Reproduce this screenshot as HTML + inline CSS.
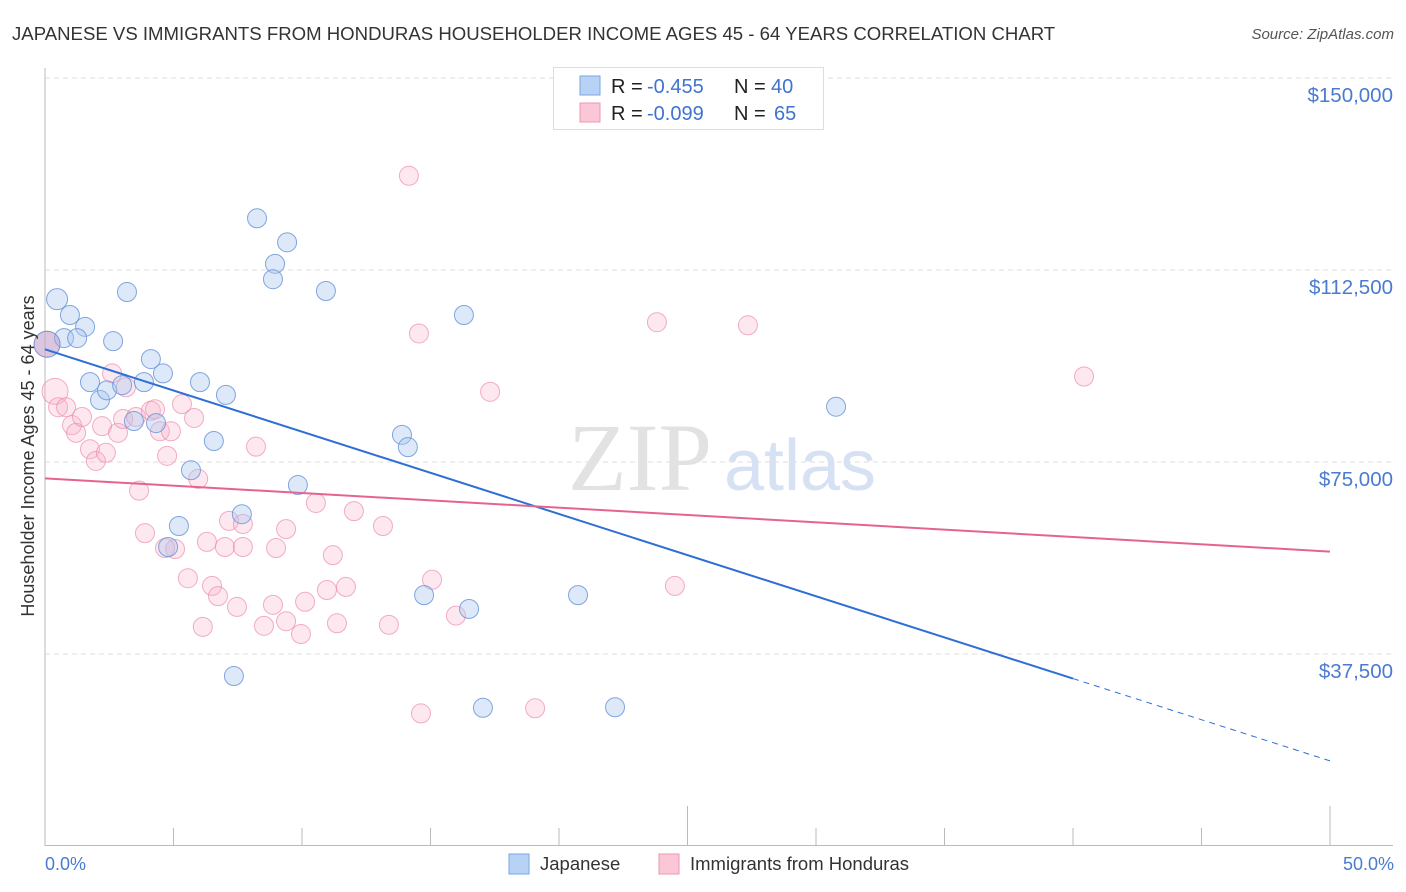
<!DOCTYPE html>
<html><head><meta charset="utf-8"><style>
body{margin:0;background:#fff;font-family:"Liberation Sans",sans-serif;}
svg{display:block}
</style></head><body>
<svg width="1406" height="892" xmlns="http://www.w3.org/2000/svg">
<text x="12" y="40" font-size="18.6" fill="#333">JAPANESE VS IMMIGRANTS FROM HONDURAS HOUSEHOLDER INCOME AGES 45 - 64 YEARS CORRELATION CHART</text>
<text x="1394" y="39" font-size="15" fill="#555" font-style="italic" text-anchor="end">Source: ZipAtlas.com</text>
<g id="grid"></g>
<text x="640" y="490" font-size="96" fill="#e2e2e2" font-family="Liberation Serif,serif" text-anchor="middle">ZIP</text>
<text x="800" y="490" font-size="72" fill="#d6e2f3" text-anchor="middle">atlas</text>
<line x1="45" y1="68" x2="45" y2="846" stroke="#bbb"/>
<line x1="45" y1="845.5" x2="1393" y2="845.5" stroke="#bbb"/>
<g id="ticks"></g>
<g id="pts"></g>
<g id="trend"></g>
<text transform="translate(34,456) rotate(-90)" font-size="18" fill="#333" text-anchor="middle">Householder Income Ages 45 - 64 years</text>
<text x="45" y="870" font-size="18" fill="#4a7bd0">0.0%</text>
<text x="1394" y="870" font-size="18" fill="#4a7bd0" text-anchor="end">50.0%</text>
<g>
<rect x="509" y="854" width="20" height="20" fill="#b8d2f5" stroke="#7aa6e3"/>
<text x="540" y="870" font-size="18.5" fill="#333">Japanese</text>
<rect x="659" y="854" width="20" height="20" fill="#fbc6d6" stroke="#ef96b2"/>
<text x="690" y="870" font-size="18.5" fill="#333">Immigrants from Honduras</text>
</g>
<g>
<rect x="553.5" y="67.5" width="270" height="62" fill="#fff" stroke="#ddd"/>
<rect x="580" y="76" width="20" height="19" fill="#b8d2f5" stroke="#7aa6e3"/>
<rect x="580" y="103" width="20" height="19" fill="#fbc6d6" stroke="#ef96b2"/>
<text x="611" y="93" font-size="20" fill="#222">R =</text>
<text x="647" y="93" font-size="20" fill="#3f73cf">-0.455</text>
<text x="734" y="93" font-size="20" fill="#222">N =</text>
<text x="771" y="93" font-size="20" fill="#3f73cf">40</text>
<text x="611" y="120" font-size="20" fill="#222">R =</text>
<text x="647" y="120" font-size="20" fill="#3f73cf">-0.099</text>
<text x="734" y="120" font-size="20" fill="#222">N =</text>
<text x="774" y="120" font-size="20" fill="#3f73cf">65</text>
</g>
</svg>
<script>
const yTicks=[37500,75000,112500,150000];
const yTickLabels=["$37,500","$75,000","$112,500","$150,000"];
const japaneseX=[0.47,0.97,1.56,0.74,1.25,2.65,3.19,4.12,1.75,2.14,2.41,3.0,3.85,4.59,6.03,7.04,3.46,4.32,5.68,6.57,5.21,4.79,7.66,8.25,9.42,8.95,8.87,10.93,9.84,13.89,14.12,16.30,14.75,16.50,20.74,7.35,17.04,22.18,30.78,0.08];
const japaneseY=[106800,103700,101400,99200,99200,98600,108200,95100,90600,87100,89000,90000,90600,92300,90600,88100,83000,82600,73400,79100,62500,58400,64800,122600,117900,113700,110700,108400,70500,80300,77900,103700,49000,46300,49000,33200,27000,27100,85800,98000];
const hondurasX=[0.08,0.39,0.51,0.82,1.05,1.21,1.44,1.75,1.98,2.37,2.22,2.61,2.84,3.15,3.04,3.54,4.12,4.28,4.47,4.90,4.75,5.33,5.80,5.96,3.66,3.89,5.06,5.56,6.50,6.73,6.30,7.0,6.14,7.47,7.70,7.16,7.70,8.21,8.52,8.87,8.99,9.38,9.38,9.96,10.12,10.54,11.20,10.97,11.36,11.71,12.02,13.15,13.38,14.16,14.55,15.06,15.99,17.32,14.63,19.07,23.81,27.35,24.51,40.43,4.67];
const hondurasY=[98000,88800,85700,85700,82200,80700,83800,77500,75200,76800,82000,92300,80700,89600,83400,83800,85000,85300,81000,81000,76200,86300,83600,71700,69400,61100,58000,52300,50800,48800,59400,58400,42800,46700,58400,63500,62900,78000,43000,47100,58200,61900,43900,41400,47700,67000,56800,50000,43500,50600,65400,62500,43200,130900,100100,52000,45000,88700,25900,26900,102300,101700,50800,91700,58200];
const jTrend=[97000,32700]; const hTrend=[71800,57500];
const NS='http://www.w3.org/2000/svg';
const xs=v=>45+v/50*1285, ys=v=>846-v/37500*192;
function mk(t,a,p){const e=document.createElementNS(NS,t);for(const k in a)e.setAttribute(k,a[k]);document.getElementById(p).appendChild(e);return e;}
yTicks.forEach((v,i)=>{
 const l=mk('line',{x1:45,x2:1393,y1:ys(v),y2:ys(v),stroke:'#ddd','stroke-dasharray':'5,4'},'grid');
 
 
 const t=mk('text',{x:1393,y:ys(v)+24,'font-size':20.5,fill:'#4a7bd0','text-anchor':'end'},'grid');
 t.textContent=yTickLabels[i];
 
 
});
for(let i=0;i<=10;i++){
 const x=xs(i*5), tall=(i==5||i==10);
 const l=mk('line',{x1:x,x2:x,y1:tall?806:828,y2:846,stroke:'#bbb'},'ticks');
 
 
}
hondurasX.forEach((v,i)=>{
 const r=(i<2)?13:9.5;
 const c=mk('circle',{cx:xs(v),cy:ys(hondurasY[i]),r:r,fill:'rgba(248,180,202,0.3)',stroke:'rgba(236,140,172,0.7)','stroke-width':1},'pts');
 
 
});
japaneseX.forEach((v,i)=>{
 const r=(i==0||i==39)?(i==39?13:10.5):9.5;
 const c=mk('circle',{cx:xs(v),cy:ys(japaneseY[i]),r:r,fill:i==39?'rgba(175,160,205,0.45)':'rgba(170,200,240,0.4)',stroke:'rgba(100,145,215,0.8)','stroke-width':1},'pts');
 
 
});
const jEnd=40, jFull=50;
const jy=x=>jTrend[0]+(jTrend[1]-jTrend[0])*x/jEnd;
let l=mk('line',{x1:xs(0),y1:ys(jy(0)),x2:xs(jEnd),y2:ys(jy(jEnd)),stroke:'#2e6fd6','stroke-width':2},'trend');


l=mk('line',{x1:xs(jEnd),y1:ys(jy(jEnd)),x2:xs(jFull),y2:ys(jy(jFull)),stroke:'#2e6fd6','stroke-width':1,'stroke-dasharray':'6,5'},'trend');


l=mk('line',{x1:xs(0),y1:ys(hTrend[0]),x2:xs(50),y2:ys(hTrend[1]),stroke:'#e5648f','stroke-width':2},'trend');


</script>
</body></html>
